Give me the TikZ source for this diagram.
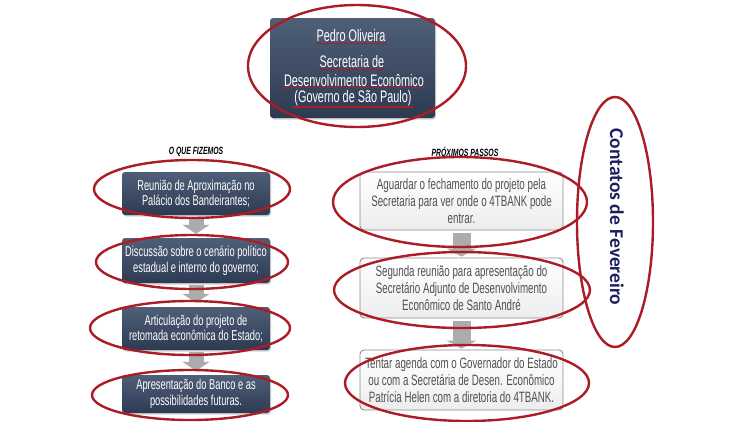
\documentclass[tikz,border=0pt]{standalone}
\usepackage{fontspec}
\setmainfont{Liberation Sans}[FakeStretch=0.65]
\newfontfamily\calib{Carlito}
\usetikzlibrary{arrows.meta,shadows}
\definecolor{navyA}{RGB}{80,95,120}
\definecolor{navyB}{RGB}{44,58,82}
\definecolor{redl}{RGB}{172,28,38}
\definecolor{txtgray}{RGB}{80,80,80}
\definecolor{arrgray}{RGB}{172,172,172}
\definecolor{boxgray}{RGB}{140,140,140}
\definecolor{titleblue}{RGB}{28,32,92}
\tikzset{
  navybox/.style={rounded corners=3pt, top color=navyA, bottom color=navyB, draw=none,
    drop shadow={opacity=0.35, shadow xshift=1.2pt, shadow yshift=-1.5pt},
    text=white, align=center, inner sep=2pt,
    font={\fontsize{14.3}{15.5}\selectfont}},
  graybox/.style={rounded corners=4pt, draw=boxgray, line width=0.9pt,
    top color=white, bottom color=white!93!black,
    text=txtgray, align=center, inner sep=2pt,
    font={\fontsize{15}{16.7}\selectfont}},
  topline/.style={text=white, inner sep=1pt, font={\fontsize{16.7}{18}\selectfont}},
  uline/.style={draw=redl, line width=1.6pt},
  heading/.style={font={\fontsize{10.5}{12}\selectfont\bfseries\itshape}, text=black},
  redring/.style={draw=redl, line width=2.4pt},
  larrow/.style={draw=arrgray, line width=15pt, -{Triangle[width=27pt,length=9pt]},
    shorten <=2pt, shorten >=4pt},
  rarrow/.style={draw=arrgray, line width=18pt, -{Triangle[width=30pt,length=8pt]},
    shorten <=3pt, shorten >=1pt},
}
\begin{document}
\begin{tikzpicture}[x=1pt,y=-1pt]
\fill[white] (0,0) rectangle (750,421);
\useasboundingbox (0,0) rectangle (750,421);

% top box
\node[navybox, minimum width=165pt, minimum height=100pt] (top) at (352.5,68) {};
\node[topline] (t1) at (351,36) {Pedro Oliveira};
\node[topline] (t2) at (352,62) {Secretaria de};
\node[topline] (t3) at (354,80) {Desenvolvimento Econômico};
\node[topline] (t4) at (353,98) {(Governo de São Paulo)};
\draw[uline] (t1.south west) -- (t1.south east);
\draw[uline] (t2.south west) -- (t2.south east);
\draw[uline] (t3.south west) -- (t3.south east);
\draw[uline] (t4.south west) -- (t4.south east);

% headings
\node[heading] (h1) at (196,152) {O QUE FIZEMOS};
\node[heading] (h2) at (465,152) {PRÓXIMOS PASSOS};

% left column
\node[navybox, minimum width=148pt, minimum height=43pt] (b1) at (196,193.5)
  {Reunião de Aproximação no\\Palácio dos Bandeirantes;};
\node[navybox, minimum width=148pt, minimum height=45pt] (b2) at (196,260.5)
  {Discussão sobre o cenário político\\estadual e interno do governo;};
\node[navybox, minimum width=148pt, minimum height=43pt] (b3) at (196,328.5)
  {Articulação do projeto de\\retomada econômica do Estado;};
\node[navybox, minimum width=148pt, minimum height=38pt] (b4) at (196,394)
  {Apresentação do Banco e as\\possibilidades futuras.};
\draw[larrow] (b1.south) -- (b2.north);
\draw[larrow] (b2.south) -- (b3.north);
\draw[larrow] (b3.south) -- (b4.north);

% right column
\node[graybox, minimum width=203pt, minimum height=58pt] (r1) at (461.5,201)
  {Aguardar o fechamento do projeto pela\\Secretaria para ver onde o 4TBANK pode\\entrar.};
\node[graybox, minimum width=203pt, minimum height=60pt] (r2) at (461.5,288)
  {Segunda reunião para apresentação do\\Secretário Adjunto de Desenvolvimento\\Econômico de Santo André};
\node[graybox, minimum width=203pt, minimum height=60pt] (r3) at (461.5,380)
  {Tentar agenda com o Governador do Estado\\ou com a Secretária de Desen. Econômico\\Patrícia Helen com a diretoria do 4TBANK.};
\draw[rarrow] (r1.south) -- (r2.north);
\draw[rarrow] (r2.south) -- (r3.north);

% vertical title
\node[rotate=-90, text=titleblue, font={\calib\bfseries\fontsize{19.5}{22}\selectfont}] (vt) at (617,217)
  {Contatos de Fevereiro};

% red rings
\draw[redring] (357,66) ellipse [x radius=109pt, y radius=61pt];
\draw[redring] (192,189) ellipse [x radius=98pt, y radius=29pt];
\draw[redring] (192,262) ellipse [x radius=96pt, y radius=27pt];
\draw[redring] (190,328) ellipse [x radius=100pt, y radius=27pt];
\draw[redring] (190,395) ellipse [x radius=98pt, y radius=25pt];
\draw[redring] (460,202) ellipse [x radius=127pt, y radius=45pt];
\draw[redring] (462,290) ellipse [x radius=128pt, y radius=38pt];
\draw[redring] (467,383) ellipse [x radius=122pt, y radius=38pt];
\draw[redring] (615,222) ellipse [x radius=38pt, y radius=125pt];
\end{tikzpicture}
\end{document}
